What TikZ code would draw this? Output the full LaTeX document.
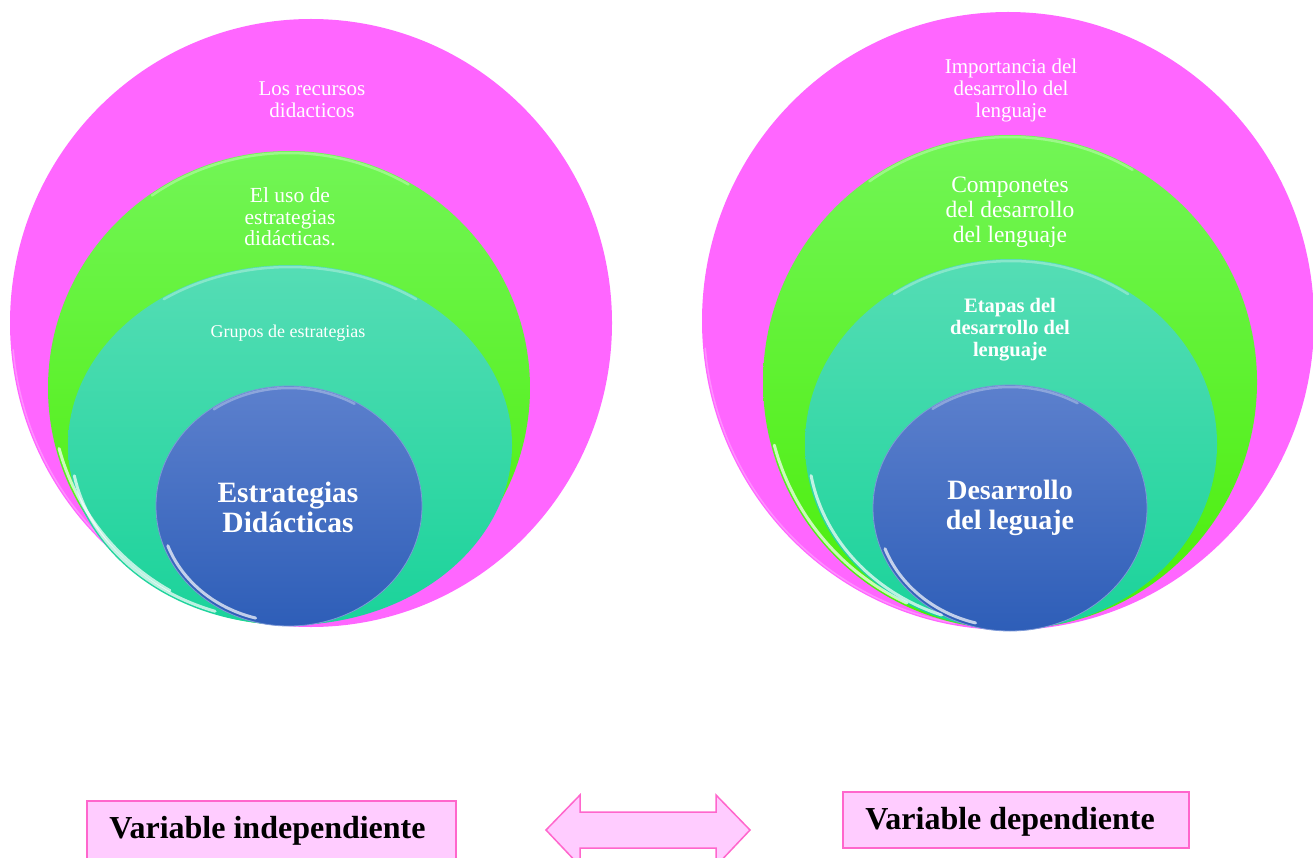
\documentclass[tikz,border=0pt]{standalone}
\usepackage{fontspec}
\setmainfont{Liberation Serif}
\usetikzlibrary{shapes.geometric}
\definecolor{pinkc}{HTML}{FF66FF}
\definecolor{pinkrim}{HTML}{FF99FF}
\definecolor{greentop}{HTML}{72F556}
\definecolor{greenbot}{HTML}{4AEE08}
\definecolor{tealtop}{HTML}{55DDB5}
\definecolor{tealbot}{HTML}{1AD39A}
\definecolor{bluetop}{HTML}{5C80CD}
\definecolor{bluebot}{HTML}{2E5EB8}
\definecolor{boxfill}{HTML}{FFCCFF}
\definecolor{boxline}{HTML}{FF66CC}
\begin{document}
\begin{tikzpicture}[x=1pt,y=-1pt,
  ell/.style={ellipse, inner sep=0pt, outer sep=0pt},
  pinkell/.style={ell, fill=pinkc},
  greenell/.style={ell, top color=greentop, bottom color=greenbot},
  tealell/.style={ell, top color=tealtop, bottom color=tealbot},
  blueell/.style={ell, top color=bluetop, bottom color=bluebot, draw=bluetop!80!white, line width=0.8pt},
  hl/.style={draw=white, line width=3pt, opacity=0.7, line cap=round},
  hltop/.style={draw=white, line width=2.5pt, opacity=0.3, line cap=round},
  lbl/.style={text=white, align=center, inner sep=0pt},
  vbox/.style={draw=boxline, fill=boxfill, line width=1.2pt, inner sep=0pt},
  vtext/.style={font=\fontsize{32}{34}\selectfont\bfseries, inner sep=0pt}
]
\useasboundingbox (0,0) rectangle (1313,858);
\clip (0,0) rectangle (1313,858);

% ---------- left diagram ----------
\node[pinkell, minimum width=602pt, minimum height=608pt] (P1) at (311,323) {};
\draw[pinkrim, line width=1.5pt, opacity=0.8] (311,323) ++(100:299 and 302) arc[start angle=100, end angle=175, x radius=299, y radius=302];
\node[greenell, minimum width=482pt, minimum height=474pt] (G1) at (289,388) {};
\node[tealell, minimum width=444pt, minimum height=360pt] (T1) at (290,445) {};
\node[blueell, minimum width=266pt, minimum height=240pt] (B1) at (289,506) {};

% highlights left
\draw[hl] (289,388) ++(120:238 and 234) arc[start angle=120, end angle=165, x radius=238, y radius=234];
\draw[hltop] (289,388) ++(235:239 and 235) arc[start angle=235, end angle=300, x radius=239, y radius=235];
\draw[hl] (290,445) ++(110:219 and 177) arc[start angle=110, end angle=170, x radius=219, y radius=177];
\draw[hltop] (290,445) ++(235:220 and 178) arc[start angle=235, end angle=305, x radius=220, y radius=178];
\draw[hl] (289,506) ++(105:129 and 116) arc[start angle=105, end angle=160, x radius=129, y radius=116];
\draw[hltop] (289,506) ++(235:131 and 118) arc[start angle=235, end angle=300, x radius=131, y radius=118];

\node[lbl, font=\fontsize{21}{22}\selectfont] (L1) at (312,100) {Los recursos\\didacticos};
\node[lbl, font=\fontsize{21.5}{21.5}\selectfont] (L2) at (290,217) {El uso de\\estrategias\\didácticas.};
\node[lbl, font=\fontsize{18}{20}\selectfont] (L3) at (288,333) {Grupos de estrategias};
\node[lbl, font=\fontsize{29.5}{30}\selectfont\bfseries] (L4) at (288,507) {Estrategias\\Didácticas};

% ---------- right diagram ----------
\node[pinkell, minimum width=612pt, minimum height=618pt] (P2) at (1008,321) {};
\draw[pinkrim, line width=1.5pt, opacity=0.8] (1008,321) ++(100:304 and 307) arc[start angle=100, end angle=175, x radius=304, y radius=307];
\node[greenell, minimum width=494pt, minimum height=494pt] (G2) at (1010,382) {};
\node[tealell, minimum width=412pt, minimum height=370pt] (T2) at (1011,444) {};
\node[blueell, minimum width=274pt, minimum height=246pt] (B2) at (1010,508) {};

% highlights right
\draw[hl] (1010,382) ++(115:244 and 244) arc[start angle=115, end angle=165, x radius=244, y radius=244];
\draw[hltop] (1010,382) ++(235:245 and 245) arc[start angle=235, end angle=300, x radius=245, y radius=245];
\draw[hl] (1011,444) ++(110:203 and 182) arc[start angle=110, end angle=170, x radius=203, y radius=182];
\draw[hltop] (1011,444) ++(235:204 and 183) arc[start angle=235, end angle=305, x radius=204, y radius=183];
\draw[hl] (1010,508) ++(105:133 and 119) arc[start angle=105, end angle=160, x radius=133, y radius=119];
\draw[hltop] (1010,508) ++(235:135 and 121) arc[start angle=235, end angle=300, x radius=135, y radius=121];

\node[lbl, font=\fontsize{21}{22}\selectfont] (R1) at (1011,90) {Importancia del\\desarrollo del\\lenguaje};
\node[lbl, font=\fontsize{23.5}{25}\selectfont] (R2) at (1010,212) {Componetes\\del desarrollo\\del lenguaje};
\node[lbl, font=\fontsize{20.5}{22}\selectfont\bfseries] (R3) at (1010,330) {Etapas del\\desarrollo del\\lenguaje};
\node[lbl, font=\fontsize{28}{29.5}\selectfont\bfseries] (R4) at (1010,508) {Desarrollo\\del leguaje};

% ---------- bottom ----------
\node[vbox, minimum width=369pt, minimum height=62pt] (VI) at (271.5,832) {};
\node[vtext] (VIt) at (267.5,831) {Variable independiente};
\node[vbox, minimum width=346pt, minimum height=56pt] (VD) at (1016,820) {};
\node[vtext] (VDt) at (1010,822) {Variable dependiente};

\filldraw[fill=boxfill, draw=boxline, line width=1.5pt, line join=miter]
  (546,830) -- (580,795) -- (580,812) -- (716,812) -- (716,795) -- (750,830)
  -- (716,866) -- (716,848) -- (580,848) -- (580,866) -- cycle;
\end{tikzpicture}
\end{document}
